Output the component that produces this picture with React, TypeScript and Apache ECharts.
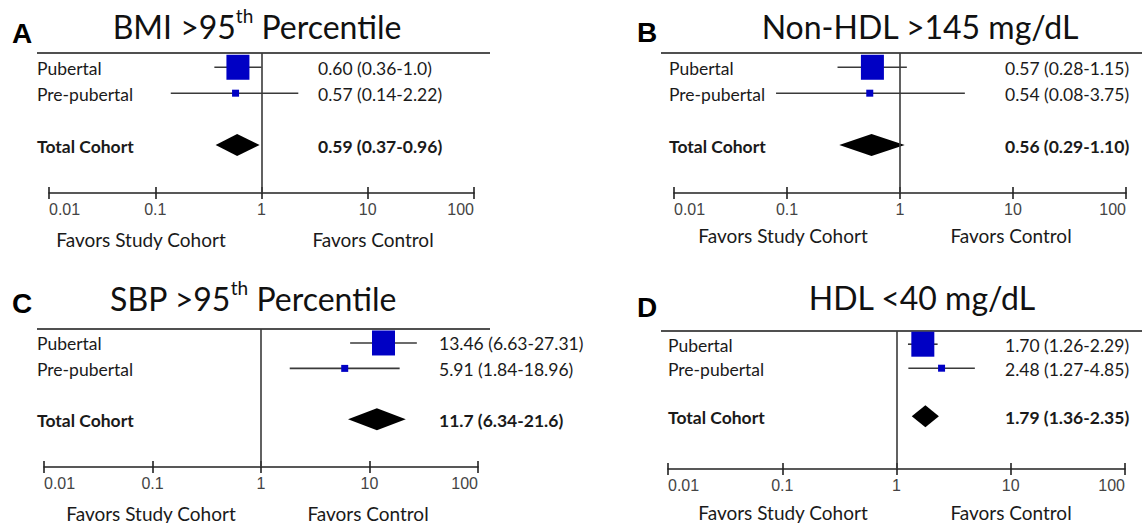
import React, { useEffect, useRef } from "react";
import * as echarts from "echarts";

// ---------- data ----------
const ROW_LABELS = ["Pubertal", "Pre-pubertal", "Total Cohort"];
const ROW_INDEX = [0, 1, 3];
const ROW_KIND = ["large", "small", "total"];

const A_EST = [0.6, 0.57, 0.59];
const A_LO = [0.36, 0.14, 0.37];
const A_HI = [1.0, 2.22, 0.96];
const A_TEXT = ["0.60 (0.36-1.0)", "0.57 (0.14-2.22)", "0.59 (0.37-0.96)"];

const B_EST = [0.57, 0.54, 0.56];
const B_LO = [0.28, 0.08, 0.29];
const B_HI = [1.15, 3.75, 1.1];
const B_TEXT = ["0.57 (0.28-1.15)", "0.54 (0.08-3.75)", "0.56 (0.29-1.10)"];

const C_EST = [13.46, 5.91, 11.7];
const C_LO = [6.63, 1.84, 6.34];
const C_HI = [27.31, 18.96, 21.6];
const C_TEXT = ["13.46 (6.63-27.31)", "5.91 (1.84-18.96)", "11.7 (6.34-21.6)"];

const D_EST = [1.7, 2.48, 1.79];
const D_LO = [1.26, 1.27, 1.36];
const D_HI = [2.29, 4.85, 2.35];
const D_TEXT = ["1.70 (1.26-2.29)", "2.48 (1.27-4.85)", "1.79 (1.36-2.35)"];

const AXIS_MIN = 0.01;
const AXIS_MAX = 100;
const FAVORS_LEFT = "Favors Study Cohort";
const FAVORS_RIGHT = "Favors Control";

// ---------- layout / style ----------
const FONT = "Lato, 'Open Sans', sans-serif";
const BLUE = "#0000c4";

const PANELS = [
  {
    letter: "A", title: ["BMI >95", "th", " Percentile"],
    est: A_EST, lo: A_LO, hi: A_HI, text: A_TEXT,
    grid: { left: 49, top: 53, width: 425, height: 140 }, yMax: 4.85,
    labelX: 37, valueX: 318, rule: [37, 490, 53], letterXY: [22, 33], titleXY: [257, 26],
    favorsY: 239, studyX: 141, controlX: 373,
  },
  {
    letter: "B", title: ["Non-HDL >145 mg/dL"],
    est: B_EST, lo: B_LO, hi: B_HI, text: B_TEXT,
    grid: { left: 674, top: 53, width: 452, height: 140 }, yMax: 4.85,
    labelX: 669, valueX: 1005, rule: [661, 1142, 53], letterXY: [647, 32], titleXY: [920, 26],
    favorsY: 235, studyX: 783, controlX: 1011,
  },
  {
    letter: "C", title: ["SBP >95", "th", " Percentile"],
    est: C_EST, lo: C_LO, hi: C_HI, text: C_TEXT,
    grid: { left: 44, top: 329, width: 434, height: 138 }, yMax: 4.88,
    labelX: 37, valueX: 439, rule: [37, 490, 329], letterXY: [22, 303], titleXY: [253, 298],
    favorsY: 513, studyX: 151, controlX: 368,
  },
  {
    letter: "D", title: ["HDL <40 mg/dL"],
    est: D_EST, lo: D_LO, hi: D_HI, text: D_TEXT,
    grid: { left: 668, top: 331, width: 457, height: 138 }, yMax: 5.2,
    labelX: 668, valueX: 1005, rule: [661, 1142, 331], letterXY: [647, 307], titleXY: [922, 297],
    favorsY: 512, studyX: 783, controlX: 1011,
  },
];

function buildOption() {
  const grid: any[] = [];
  const xAxis: any[] = [];
  const yAxis: any[] = [];
  const series: any[] = [];
  const graphic: any[] = [];

  PANELS.forEach((p, i) => {
    grid.push({ ...p.grid, containLabel: false });
    // main axis: line, downward ticks, labels
    xAxis.push({
      type: "log", logBase: 10, gridIndex: i, min: AXIS_MIN, max: AXIS_MAX, position: "bottom",
      axisLine: { show: true, onZero: false, lineStyle: { color: "#222", width: 1.6 } },
      axisTick: { show: true, inside: false, length: 6, lineStyle: { color: "#222", width: 1.6 } },
      splitLine: { show: false },
      axisLabel: {
        show: true, margin: 8, color: "#444", fontSize: 16, fontFamily: "'Liberation Sans', Arial, sans-serif",
        alignMinLabel: "left", alignMaxLabel: "right",
        formatter: (v: number) => String(+Number(v).toPrecision(6)),
      },
    });
    // companion axis moved onto the same baseline: upward tick halves
    xAxis.push({
      type: "log", logBase: 10, gridIndex: i, min: AXIS_MIN, max: AXIS_MAX, position: "top",
      offset: -p.grid.height,
      axisLine: { show: false, onZero: false },
      axisTick: { show: true, inside: false, length: 6, lineStyle: { color: "#222", width: 1.6 } },
      axisLabel: { show: false },
      splitLine: { show: false },
    });
    yAxis.push({ type: "value", gridIndex: i, min: -0.55, max: p.yMax, inverse: true, show: false });

    const data = ROW_LABELS.map((_, r) => [p.est[r], ROW_INDEX[r], p.lo[r], p.hi[r]]);
    series.push({
      type: "custom",
      xAxisIndex: i * 2,
      yAxisIndex: i,
      clip: false,
      encode: { x: 0, y: 1 },
      data,
      renderItem: (params: any, api: any) => {
        const r = params.dataIndex;
        const y = api.value(1);
        const pe = api.coord([api.value(0), y]);
        const pl = api.coord([api.value(2), y]);
        const ph = api.coord([api.value(3), y]);
        const kind = ROW_KIND[r];
        const children: any[] = [];
        if (kind === "total") {
          children.push({
            type: "polygon",
            shape: { points: [[pl[0], pe[1]], [pe[0], pe[1] - 11], [ph[0], pe[1]], [pe[0], pe[1] + 11]] },
            style: { fill: "#000" },
          });
        } else {
          children.push({
            type: "line",
            shape: { x1: pl[0], y1: pe[1], x2: ph[0], y2: pe[1] },
            style: { stroke: "#3a3a3a", lineWidth: 1.6 },
          });
          const w = kind === "large" ? 23 : 7;
          const h = kind === "large" ? 25 : 7;
          children.push({
            type: "rect",
            shape: { x: pe[0] - w / 2, y: pe[1] - h / 2, width: w, height: h },
            style: { fill: BLUE },
          });
        }
        const bold = kind === "total";
        children.push({
          type: "text",
          x: p.labelX, y: pe[1] + 1,
          style: {
            text: ROW_LABELS[r], fill: "#1a1a1a", fontFamily: FONT, fontSize: 17.5,
            fontWeight: bold ? "bold" : "normal", align: "left", verticalAlign: "middle",
          },
        });
        children.push({
          type: "text",
          x: p.valueX, y: pe[1] + 1,
          style: {
            text: p.text[r], fill: "#1a1a1a", fontFamily: FONT, fontSize: 17.5,
            fontWeight: bold ? "bold" : "normal", align: "left", verticalAlign: "middle",
          },
        });
        return { type: "group", children };
      },
      markLine: {
        silent: true,
        symbol: ["none", "none"],
        label: { show: false },
        lineStyle: { color: "#3a3a3a", width: 1.6, type: "solid" },
        data: [{ xAxis: 1 }],
      },
      z: 3,
    });

    // top rule
    graphic.push({
      type: "line",
      shape: { x1: p.rule[0], y1: p.rule[2], x2: p.rule[1], y2: p.rule[2] },
      style: { stroke: "#505050", lineWidth: 2 },
    });
    // panel letter
    graphic.push({
      type: "text", x: p.letterXY[0], y: p.letterXY[1],
      style: {
        text: p.letter, fill: "#000", fontFamily: "'Liberation Sans', Arial, sans-serif",
        fontSize: 28, fontWeight: "bold", align: "center", verticalAlign: "middle",
      },
    });
    // title
    const t = p.title;
    const rich = {
      m: { fontFamily: FONT, fontSize: 32, fill: "#111", lineHeight: 40 },
      s: { fontFamily: FONT, fontSize: 19, fill: "#111", lineHeight: 23, verticalAlign: "top" },
    };
    const titleText = t.length === 3 ? `{m|${t[0]}}{s|${t[1]}}{m|${t[2]}}` : `{m|${t[0]}}`;
    graphic.push({
      type: "text", x: p.titleXY[0], y: p.titleXY[1],
      style: { text: titleText, rich, align: "center", verticalAlign: "middle" },
    });
    // favors labels
    [[p.studyX, FAVORS_LEFT], [p.controlX, FAVORS_RIGHT]].forEach(([x, txt]) => {
      graphic.push({
        type: "text", x, y: p.favorsY,
        style: {
          text: txt, fill: "#1a1a1a", fontFamily: FONT, fontSize: 19,
          align: "center", verticalAlign: "middle",
        },
      });
    });
  });

  return {
    animation: false,
    backgroundColor: "#fff",
    grid, xAxis, yAxis, series, graphic,
  };
}

export default function App() {
  const ref = useRef<HTMLDivElement>(null);
  useEffect(() => {
    if (!ref.current) return;
    const chart = echarts.init(ref.current, null, { renderer: "svg" });
    chart.setOption(buildOption() as any);
    return () => chart.dispose();
  }, []);
  return (
    <div
      ref={ref}
      style={{ position: "fixed", left: 0, top: 0, width: 1142, height: 523, background: "#fff" }}
    />
  );
}
